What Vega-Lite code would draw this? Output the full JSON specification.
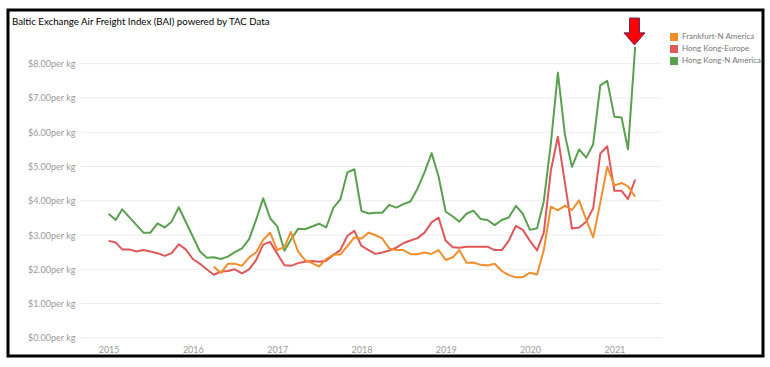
{
  "$schema": "https://vega.github.io/schema/vega-lite/v6.json",
  "width": 755,
  "height": 346,
  "autosize": {"type": "none"},
  "padding": {"left": 8, "top": 10, "right": 7, "bottom": 11},
  "background": "white",
  "config": {
    "view": {"stroke": "black", "strokeWidth": 3},
    "font": "Lato"
  },
  "title": {
    "text": "Baltic Exchange Air Freight Index (BAI) powered by TAC Data",
    "anchor": "start",
    "frame": "group",
    "orient": "top",
    "offset": -17,
    "dx": 4,
    "fontSize": 9.7,
    "fontWeight": "normal",
    "color": "black",
    "font": "Lato"
  },
  "datasets": {
    "grid": [{"v": 0}, {"v": 1}, {"v": 2}, {"v": 3}, {"v": 4}, {"v": 5}, {"v": 6}, {"v": 7}, {"v": 8}],
    "arrow": [{"d": "2021-03-29", "v": 8.94}],
    "bai": [
      {"s": "Hong Kong-N America", "d": "2015-01-01", "v": 3.62},
      {"s": "Hong Kong-N America", "d": "2015-02-01", "v": 3.44},
      {"s": "Hong Kong-N America", "d": "2015-03-01", "v": 3.75},
      {"s": "Hong Kong-N America", "d": "2015-06-01", "v": 3.07},
      {"s": "Hong Kong-N America", "d": "2015-07-01", "v": 3.07},
      {"s": "Hong Kong-N America", "d": "2015-08-01", "v": 3.34},
      {"s": "Hong Kong-N America", "d": "2015-09-01", "v": 3.22},
      {"s": "Hong Kong-N America", "d": "2015-10-01", "v": 3.39},
      {"s": "Hong Kong-N America", "d": "2015-11-01", "v": 3.81},
      {"s": "Hong Kong-N America", "d": "2016-02-01", "v": 2.52},
      {"s": "Hong Kong-N America", "d": "2016-03-01", "v": 2.34},
      {"s": "Hong Kong-N America", "d": "2016-04-01", "v": 2.35},
      {"s": "Hong Kong-N America", "d": "2016-05-01", "v": 2.30},
      {"s": "Hong Kong-N America", "d": "2016-06-01", "v": 2.37},
      {"s": "Hong Kong-N America", "d": "2016-07-01", "v": 2.50},
      {"s": "Hong Kong-N America", "d": "2016-08-01", "v": 2.61},
      {"s": "Hong Kong-N America", "d": "2016-09-01", "v": 2.88},
      {"s": "Hong Kong-N America", "d": "2016-10-01", "v": 3.44},
      {"s": "Hong Kong-N America", "d": "2016-11-01", "v": 4.07},
      {"s": "Hong Kong-N America", "d": "2016-12-01", "v": 3.49},
      {"s": "Hong Kong-N America", "d": "2017-01-01", "v": 3.25},
      {"s": "Hong Kong-N America", "d": "2017-02-01", "v": 2.54},
      {"s": "Hong Kong-N America", "d": "2017-03-01", "v": 2.86},
      {"s": "Hong Kong-N America", "d": "2017-04-01", "v": 3.18},
      {"s": "Hong Kong-N America", "d": "2017-05-01", "v": 3.17},
      {"s": "Hong Kong-N America", "d": "2017-06-01", "v": 3.25},
      {"s": "Hong Kong-N America", "d": "2017-07-01", "v": 3.33},
      {"s": "Hong Kong-N America", "d": "2017-08-01", "v": 3.22},
      {"s": "Hong Kong-N America", "d": "2017-09-01", "v": 3.79},
      {"s": "Hong Kong-N America", "d": "2017-10-01", "v": 4.04},
      {"s": "Hong Kong-N America", "d": "2017-11-01", "v": 4.83},
      {"s": "Hong Kong-N America", "d": "2017-12-01", "v": 4.92},
      {"s": "Hong Kong-N America", "d": "2018-01-01", "v": 3.70},
      {"s": "Hong Kong-N America", "d": "2018-02-01", "v": 3.63},
      {"s": "Hong Kong-N America", "d": "2018-03-01", "v": 3.65},
      {"s": "Hong Kong-N America", "d": "2018-04-01", "v": 3.65},
      {"s": "Hong Kong-N America", "d": "2018-05-01", "v": 3.88},
      {"s": "Hong Kong-N America", "d": "2018-06-01", "v": 3.80},
      {"s": "Hong Kong-N America", "d": "2018-07-01", "v": 3.90},
      {"s": "Hong Kong-N America", "d": "2018-08-01", "v": 3.98},
      {"s": "Hong Kong-N America", "d": "2018-09-01", "v": 4.36},
      {"s": "Hong Kong-N America", "d": "2018-10-01", "v": 4.83},
      {"s": "Hong Kong-N America", "d": "2018-11-01", "v": 5.39},
      {"s": "Hong Kong-N America", "d": "2018-12-01", "v": 4.71},
      {"s": "Hong Kong-N America", "d": "2019-01-01", "v": 3.68},
      {"s": "Hong Kong-N America", "d": "2019-02-01", "v": 3.54},
      {"s": "Hong Kong-N America", "d": "2019-03-01", "v": 3.39},
      {"s": "Hong Kong-N America", "d": "2019-04-01", "v": 3.62},
      {"s": "Hong Kong-N America", "d": "2019-05-01", "v": 3.71},
      {"s": "Hong Kong-N America", "d": "2019-06-01", "v": 3.47},
      {"s": "Hong Kong-N America", "d": "2019-07-01", "v": 3.44},
      {"s": "Hong Kong-N America", "d": "2019-08-01", "v": 3.29},
      {"s": "Hong Kong-N America", "d": "2019-09-01", "v": 3.44},
      {"s": "Hong Kong-N America", "d": "2019-10-01", "v": 3.51},
      {"s": "Hong Kong-N America", "d": "2019-11-01", "v": 3.85},
      {"s": "Hong Kong-N America", "d": "2019-12-01", "v": 3.62},
      {"s": "Hong Kong-N America", "d": "2020-01-01", "v": 3.15},
      {"s": "Hong Kong-N America", "d": "2020-02-01", "v": 3.20},
      {"s": "Hong Kong-N America", "d": "2020-03-01", "v": 3.98},
      {"s": "Hong Kong-N America", "d": "2020-04-01", "v": 5.70},
      {"s": "Hong Kong-N America", "d": "2020-05-01", "v": 7.74},
      {"s": "Hong Kong-N America", "d": "2020-06-01", "v": 5.91},
      {"s": "Hong Kong-N America", "d": "2020-07-01", "v": 4.99},
      {"s": "Hong Kong-N America", "d": "2020-08-01", "v": 5.50},
      {"s": "Hong Kong-N America", "d": "2020-09-01", "v": 5.26},
      {"s": "Hong Kong-N America", "d": "2020-10-01", "v": 5.65},
      {"s": "Hong Kong-N America", "d": "2020-11-01", "v": 7.37},
      {"s": "Hong Kong-N America", "d": "2020-12-01", "v": 7.50},
      {"s": "Hong Kong-N America", "d": "2021-01-01", "v": 6.45},
      {"s": "Hong Kong-N America", "d": "2021-02-01", "v": 6.43},
      {"s": "Hong Kong-N America", "d": "2021-03-01", "v": 5.50},
      {"s": "Hong Kong-N America", "d": "2021-04-01", "v": 8.49},

      {"s": "Hong Kong-Europe", "d": "2015-01-01", "v": 2.83},
      {"s": "Hong Kong-Europe", "d": "2015-02-01", "v": 2.78},
      {"s": "Hong Kong-Europe", "d": "2015-03-01", "v": 2.58},
      {"s": "Hong Kong-Europe", "d": "2015-04-01", "v": 2.58},
      {"s": "Hong Kong-Europe", "d": "2015-05-01", "v": 2.52},
      {"s": "Hong Kong-Europe", "d": "2015-06-01", "v": 2.56},
      {"s": "Hong Kong-Europe", "d": "2015-07-01", "v": 2.52},
      {"s": "Hong Kong-Europe", "d": "2015-08-01", "v": 2.47},
      {"s": "Hong Kong-Europe", "d": "2015-09-01", "v": 2.39},
      {"s": "Hong Kong-Europe", "d": "2015-10-01", "v": 2.47},
      {"s": "Hong Kong-Europe", "d": "2015-11-01", "v": 2.73},
      {"s": "Hong Kong-Europe", "d": "2015-12-01", "v": 2.58},
      {"s": "Hong Kong-Europe", "d": "2016-01-01", "v": 2.30},
      {"s": "Hong Kong-Europe", "d": "2016-02-01", "v": 2.16},
      {"s": "Hong Kong-Europe", "d": "2016-03-01", "v": 2.00},
      {"s": "Hong Kong-Europe", "d": "2016-04-01", "v": 1.84},
      {"s": "Hong Kong-Europe", "d": "2016-05-01", "v": 1.93},
      {"s": "Hong Kong-Europe", "d": "2016-06-01", "v": 1.95},
      {"s": "Hong Kong-Europe", "d": "2016-07-01", "v": 2.00},
      {"s": "Hong Kong-Europe", "d": "2016-08-01", "v": 1.88},
      {"s": "Hong Kong-Europe", "d": "2016-09-01", "v": 2.00},
      {"s": "Hong Kong-Europe", "d": "2016-10-01", "v": 2.27},
      {"s": "Hong Kong-Europe", "d": "2016-11-01", "v": 2.72},
      {"s": "Hong Kong-Europe", "d": "2016-12-01", "v": 2.80},
      {"s": "Hong Kong-Europe", "d": "2017-01-01", "v": 2.45},
      {"s": "Hong Kong-Europe", "d": "2017-02-01", "v": 2.12},
      {"s": "Hong Kong-Europe", "d": "2017-03-01", "v": 2.10},
      {"s": "Hong Kong-Europe", "d": "2017-04-01", "v": 2.18},
      {"s": "Hong Kong-Europe", "d": "2017-05-01", "v": 2.22},
      {"s": "Hong Kong-Europe", "d": "2017-06-01", "v": 2.24},
      {"s": "Hong Kong-Europe", "d": "2017-07-01", "v": 2.22},
      {"s": "Hong Kong-Europe", "d": "2017-08-01", "v": 2.25},
      {"s": "Hong Kong-Europe", "d": "2017-09-01", "v": 2.42},
      {"s": "Hong Kong-Europe", "d": "2017-10-01", "v": 2.56},
      {"s": "Hong Kong-Europe", "d": "2017-11-01", "v": 2.98},
      {"s": "Hong Kong-Europe", "d": "2017-12-01", "v": 3.12},
      {"s": "Hong Kong-Europe", "d": "2018-01-01", "v": 2.68},
      {"s": "Hong Kong-Europe", "d": "2018-02-01", "v": 2.56},
      {"s": "Hong Kong-Europe", "d": "2018-03-01", "v": 2.45},
      {"s": "Hong Kong-Europe", "d": "2018-04-01", "v": 2.49},
      {"s": "Hong Kong-Europe", "d": "2018-05-01", "v": 2.55},
      {"s": "Hong Kong-Europe", "d": "2018-06-01", "v": 2.63},
      {"s": "Hong Kong-Europe", "d": "2018-07-01", "v": 2.76},
      {"s": "Hong Kong-Europe", "d": "2018-08-01", "v": 2.84},
      {"s": "Hong Kong-Europe", "d": "2018-09-01", "v": 2.91},
      {"s": "Hong Kong-Europe", "d": "2018-10-01", "v": 3.07},
      {"s": "Hong Kong-Europe", "d": "2018-11-01", "v": 3.37},
      {"s": "Hong Kong-Europe", "d": "2018-12-01", "v": 3.51},
      {"s": "Hong Kong-Europe", "d": "2019-01-01", "v": 2.83},
      {"s": "Hong Kong-Europe", "d": "2019-02-01", "v": 2.64},
      {"s": "Hong Kong-Europe", "d": "2019-03-01", "v": 2.63},
      {"s": "Hong Kong-Europe", "d": "2019-04-01", "v": 2.66},
      {"s": "Hong Kong-Europe", "d": "2019-05-01", "v": 2.66},
      {"s": "Hong Kong-Europe", "d": "2019-06-01", "v": 2.66},
      {"s": "Hong Kong-Europe", "d": "2019-07-01", "v": 2.66},
      {"s": "Hong Kong-Europe", "d": "2019-08-01", "v": 2.56},
      {"s": "Hong Kong-Europe", "d": "2019-09-01", "v": 2.56},
      {"s": "Hong Kong-Europe", "d": "2019-10-01", "v": 2.83},
      {"s": "Hong Kong-Europe", "d": "2019-11-01", "v": 3.27},
      {"s": "Hong Kong-Europe", "d": "2019-12-01", "v": 3.15},
      {"s": "Hong Kong-Europe", "d": "2020-01-01", "v": 2.83},
      {"s": "Hong Kong-Europe", "d": "2020-02-01", "v": 2.55},
      {"s": "Hong Kong-Europe", "d": "2020-03-01", "v": 3.07},
      {"s": "Hong Kong-Europe", "d": "2020-04-01", "v": 4.90},
      {"s": "Hong Kong-Europe", "d": "2020-05-01", "v": 5.87},
      {"s": "Hong Kong-Europe", "d": "2020-06-01", "v": 4.50},
      {"s": "Hong Kong-Europe", "d": "2020-07-01", "v": 3.19},
      {"s": "Hong Kong-Europe", "d": "2020-08-01", "v": 3.22},
      {"s": "Hong Kong-Europe", "d": "2020-09-01", "v": 3.39},
      {"s": "Hong Kong-Europe", "d": "2020-10-01", "v": 3.78},
      {"s": "Hong Kong-Europe", "d": "2020-11-01", "v": 5.38},
      {"s": "Hong Kong-Europe", "d": "2020-12-01", "v": 5.59},
      {"s": "Hong Kong-Europe", "d": "2021-01-01", "v": 4.29},
      {"s": "Hong Kong-Europe", "d": "2021-02-01", "v": 4.29},
      {"s": "Hong Kong-Europe", "d": "2021-03-01", "v": 4.05},
      {"s": "Hong Kong-Europe", "d": "2021-04-01", "v": 4.62},

      {"s": "Frankfurt-N America", "d": "2016-04-01", "v": 2.08},
      {"s": "Frankfurt-N America", "d": "2016-05-01", "v": 1.89},
      {"s": "Frankfurt-N America", "d": "2016-06-01", "v": 2.16},
      {"s": "Frankfurt-N America", "d": "2016-07-01", "v": 2.16},
      {"s": "Frankfurt-N America", "d": "2016-08-01", "v": 2.10},
      {"s": "Frankfurt-N America", "d": "2016-09-01", "v": 2.35},
      {"s": "Frankfurt-N America", "d": "2016-10-01", "v": 2.49},
      {"s": "Frankfurt-N America", "d": "2016-11-01", "v": 2.86},
      {"s": "Frankfurt-N America", "d": "2016-12-01", "v": 3.07},
      {"s": "Frankfurt-N America", "d": "2017-01-01", "v": 2.56},
      {"s": "Frankfurt-N America", "d": "2017-02-01", "v": 2.65},
      {"s": "Frankfurt-N America", "d": "2017-03-01", "v": 3.09},
      {"s": "Frankfurt-N America", "d": "2017-04-01", "v": 2.52},
      {"s": "Frankfurt-N America", "d": "2017-05-01", "v": 2.27},
      {"s": "Frankfurt-N America", "d": "2017-06-01", "v": 2.18},
      {"s": "Frankfurt-N America", "d": "2017-07-01", "v": 2.08},
      {"s": "Frankfurt-N America", "d": "2017-08-01", "v": 2.30},
      {"s": "Frankfurt-N America", "d": "2017-09-01", "v": 2.43},
      {"s": "Frankfurt-N America", "d": "2017-10-01", "v": 2.43},
      {"s": "Frankfurt-N America", "d": "2017-11-01", "v": 2.68},
      {"s": "Frankfurt-N America", "d": "2017-12-01", "v": 2.93},
      {"s": "Frankfurt-N America", "d": "2018-01-01", "v": 2.90},
      {"s": "Frankfurt-N America", "d": "2018-02-01", "v": 3.07},
      {"s": "Frankfurt-N America", "d": "2018-03-01", "v": 3.00},
      {"s": "Frankfurt-N America", "d": "2018-04-01", "v": 2.90},
      {"s": "Frankfurt-N America", "d": "2018-05-01", "v": 2.61},
      {"s": "Frankfurt-N America", "d": "2018-06-01", "v": 2.56},
      {"s": "Frankfurt-N America", "d": "2018-07-01", "v": 2.56},
      {"s": "Frankfurt-N America", "d": "2018-08-01", "v": 2.44},
      {"s": "Frankfurt-N America", "d": "2018-09-01", "v": 2.44},
      {"s": "Frankfurt-N America", "d": "2018-10-01", "v": 2.49},
      {"s": "Frankfurt-N America", "d": "2018-11-01", "v": 2.45},
      {"s": "Frankfurt-N America", "d": "2018-12-01", "v": 2.56},
      {"s": "Frankfurt-N America", "d": "2019-01-01", "v": 2.27},
      {"s": "Frankfurt-N America", "d": "2019-02-01", "v": 2.35},
      {"s": "Frankfurt-N America", "d": "2019-03-01", "v": 2.56},
      {"s": "Frankfurt-N America", "d": "2019-04-01", "v": 2.19},
      {"s": "Frankfurt-N America", "d": "2019-05-01", "v": 2.20},
      {"s": "Frankfurt-N America", "d": "2019-06-01", "v": 2.13},
      {"s": "Frankfurt-N America", "d": "2019-07-01", "v": 2.11},
      {"s": "Frankfurt-N America", "d": "2019-08-01", "v": 2.16},
      {"s": "Frankfurt-N America", "d": "2019-09-01", "v": 1.95},
      {"s": "Frankfurt-N America", "d": "2019-10-01", "v": 1.83},
      {"s": "Frankfurt-N America", "d": "2019-11-01", "v": 1.77},
      {"s": "Frankfurt-N America", "d": "2019-12-01", "v": 1.77},
      {"s": "Frankfurt-N America", "d": "2020-01-01", "v": 1.90},
      {"s": "Frankfurt-N America", "d": "2020-02-01", "v": 1.85},
      {"s": "Frankfurt-N America", "d": "2020-03-01", "v": 2.56},
      {"s": "Frankfurt-N America", "d": "2020-04-01", "v": 3.83},
      {"s": "Frankfurt-N America", "d": "2020-05-01", "v": 3.72},
      {"s": "Frankfurt-N America", "d": "2020-06-01", "v": 3.86},
      {"s": "Frankfurt-N America", "d": "2020-07-01", "v": 3.73},
      {"s": "Frankfurt-N America", "d": "2020-08-01", "v": 4.01},
      {"s": "Frankfurt-N America", "d": "2020-09-01", "v": 3.44},
      {"s": "Frankfurt-N America", "d": "2020-10-01", "v": 2.93},
      {"s": "Frankfurt-N America", "d": "2020-11-01", "v": 3.95},
      {"s": "Frankfurt-N America", "d": "2020-12-01", "v": 4.99},
      {"s": "Frankfurt-N America", "d": "2021-01-01", "v": 4.45},
      {"s": "Frankfurt-N America", "d": "2021-02-01", "v": 4.52},
      {"s": "Frankfurt-N America", "d": "2021-03-01", "v": 4.42},
      {"s": "Frankfurt-N America", "d": "2021-04-01", "v": 4.12}
    ]
  },
  "layer": [
    {
      "data": {"name": "grid"},
      "mark": {"type": "rule", "color": "#ececec", "strokeWidth": 1},
      "encoding": {
        "x": {"datum": {"year": 2014, "month": 8, "date": 31}, "type": "temporal",
              "scale": {"domain": [{"year": 2013, "month": 10, "date": 22}, {"year": 2022, "month": 10, "date": 7}]},
              "axis": {"values": [{"year": 2015}, {"year": 2016}, {"year": 2017}, {"year": 2018}, {"year": 2019}, {"year": 2020}, {"year": 2021}],
                       "format": "%Y", "title": null, "offset": -14, "domain": false, "ticks": false, "grid": false,
                       "labelColor": "#9a9a9a", "labelFontSize": 9, "labelPadding": 3, "labelFont": "Lato"}},
        "x2": {"datum": {"year": 2021, "month": 7, "date": 26}},
        "y": {"field": "v", "type": "quantitative", "scale": {"domain": [-0.531, 9.568], "nice": false, "zero": false},
              "axis": {"values": [0, 1, 2, 3, 4, 5, 6, 7, 8],
                       "labelExpr": "'$' + format(datum.value, '.2f') + 'per kg'",
                       "title": null, "offset": -72, "domain": false, "ticks": false, "grid": false,
                       "labelColor": "#9a9a9a", "labelFontSize": 9, "labelPadding": 5, "labelFont": "Lato"}}
      }
    },
    {
      "data": {"name": "bai"},
      "mark": {"type": "line", "strokeWidth": 2, "strokeJoin": "round"},
      "encoding": {
        "x": {"field": "d", "type": "temporal", "title": null},
        "y": {"field": "v", "type": "quantitative", "title": null},
        "color": {"field": "s", "type": "nominal",
                  "scale": {"domain": ["Frankfurt-N America", "Hong Kong-Europe", "Hong Kong-N America"], "range": ["#F28E2B", "#E15759", "#59A14F"]},
                  "legend": {"orient": "none", "legendX": 662, "legendY": 23, "title": null, "symbolType": "square", "symbolSize": 64,
                             "labelFontSize": 8, "labelColor": "#777777", "labelFont": "Lato", "rowPadding": 4, "labelOffset": 4, "padding": 0,
                             "encode": {"symbols": {"update": {"fill": {"scale": "color", "field": "value"}, "fillOpacity": {"value": 1}, "strokeWidth": {"value": 0}}}}}}
      }
    },
    {
      "data": {"name": "arrow"},
      "mark": {"type": "point", "shape": "M-0.37,-1L0.37,-1L0.37,0.1L0.78,0.1L0,1L-0.78,0.1L-0.37,0.1Z",
               "size": 729, "filled": true, "fill": "#ff0000", "stroke": "#5a2a6e", "strokeWidth": 1, "opacity": 1},
      "encoding": {
        "x": {"field": "d", "type": "temporal", "title": null},
        "y": {"field": "v", "type": "quantitative", "title": null}
      }
    }
  ]
}
